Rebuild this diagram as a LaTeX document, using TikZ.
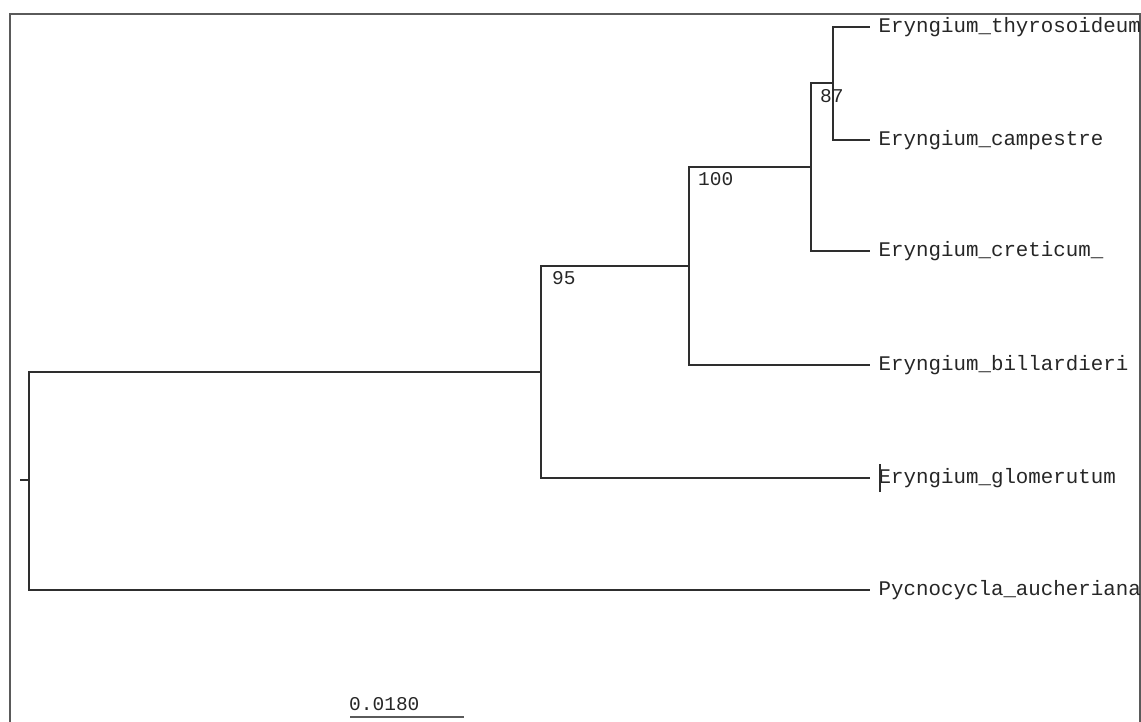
\documentclass[tikz,border=0pt]{standalone}
\usepackage{fontspec}
\setmonofont{Liberation Mono}
\usetikzlibrary{positioning}

\definecolor{treeline}{HTML}{2E2E2E}
\definecolor{frameline}{HTML}{5A5A5A}
\definecolor{labeltext}{HTML}{262626}

\begin{document}
\begin{tikzpicture}[
  x=1pt, y=-1pt,
  font=\ttfamily,
  branch/.style={draw=treeline, line width=1.3pt},
  taxon/.style={anchor=west, inner xsep=8.5pt, inner ysep=4pt, text depth=0pt, text height=11pt, text=labeltext, font=\ttfamily\fontsize{20.8}{22}\selectfont},
  support/.style={anchor=north west, inner sep=0pt, text=labeltext, font=\ttfamily\fontsize{19.5}{21}\selectfont},
  frame/.style={draw=frameline, line width=2pt}
]
\useasboundingbox (0,0) rectangle (1141,722);
\draw[frame] (10,722) |- (1140,14) -- (1140,722);

% inner nodes
\coordinate (stub) at (20,480);
\coordinate (root) at (29,480);
\coordinate (n95) at (541,372);
\coordinate (n100) at (689,266);
\coordinate (ncre) at (811,167);
\coordinate (n87) at (833,83);

% tips
\node[taxon] (thy) at (870,27) {Eryngium\_thyrosoideum};
\node[taxon] (cam) at (870,140) {Eryngium\_campestre};
\node[taxon] (cre) at (870,251) {Eryngium\_creticum\_};
\node[taxon] (bil) at (870,365) {Eryngium\_billardieri};
\node[taxon] (glo) at (870,478) {Eryngium\_glomerutum};
\node[taxon] (pyc) at (870,590) {Pycnocycla\_aucheriana};

% branches
\draw[branch] (stub) -- (root);
\draw[branch] (root) |- (n95);
\draw[branch] (root) |- (pyc.west);
\draw[branch] (n95) |- (n100);
\draw[branch] (n95) |- (glo.west);
\draw[branch] (n100) |- (ncre);
\draw[branch] (n100) |- (bil.west);
\draw[branch] (ncre) |- (n87);
\draw[branch] (ncre) |- (cre.west);
\draw[branch] (n87) |- (thy.west);
\draw[branch] (n87) |- (cam.west);
\draw[treeline, line width=1.5pt] ([xshift=10pt, yshift=-14pt]glo.west) -- ([xshift=10pt, yshift=14pt]glo.west);

% bootstrap values
\node[support] (b95) at (552,271) {95};
\node[support] (b100) at (698,172) {100};
\node[support] (b87) at (820,89) {87};

% scale bar
\node[support, anchor=south west] (scalelabel) at (349,711) {0.0180};
\coordinate (scaleA) at (350,717);
\coordinate (scaleB) at (464,717);
\draw[branch, draw=frameline] (scaleA) -- (scaleB);
\end{tikzpicture}
\end{document}
